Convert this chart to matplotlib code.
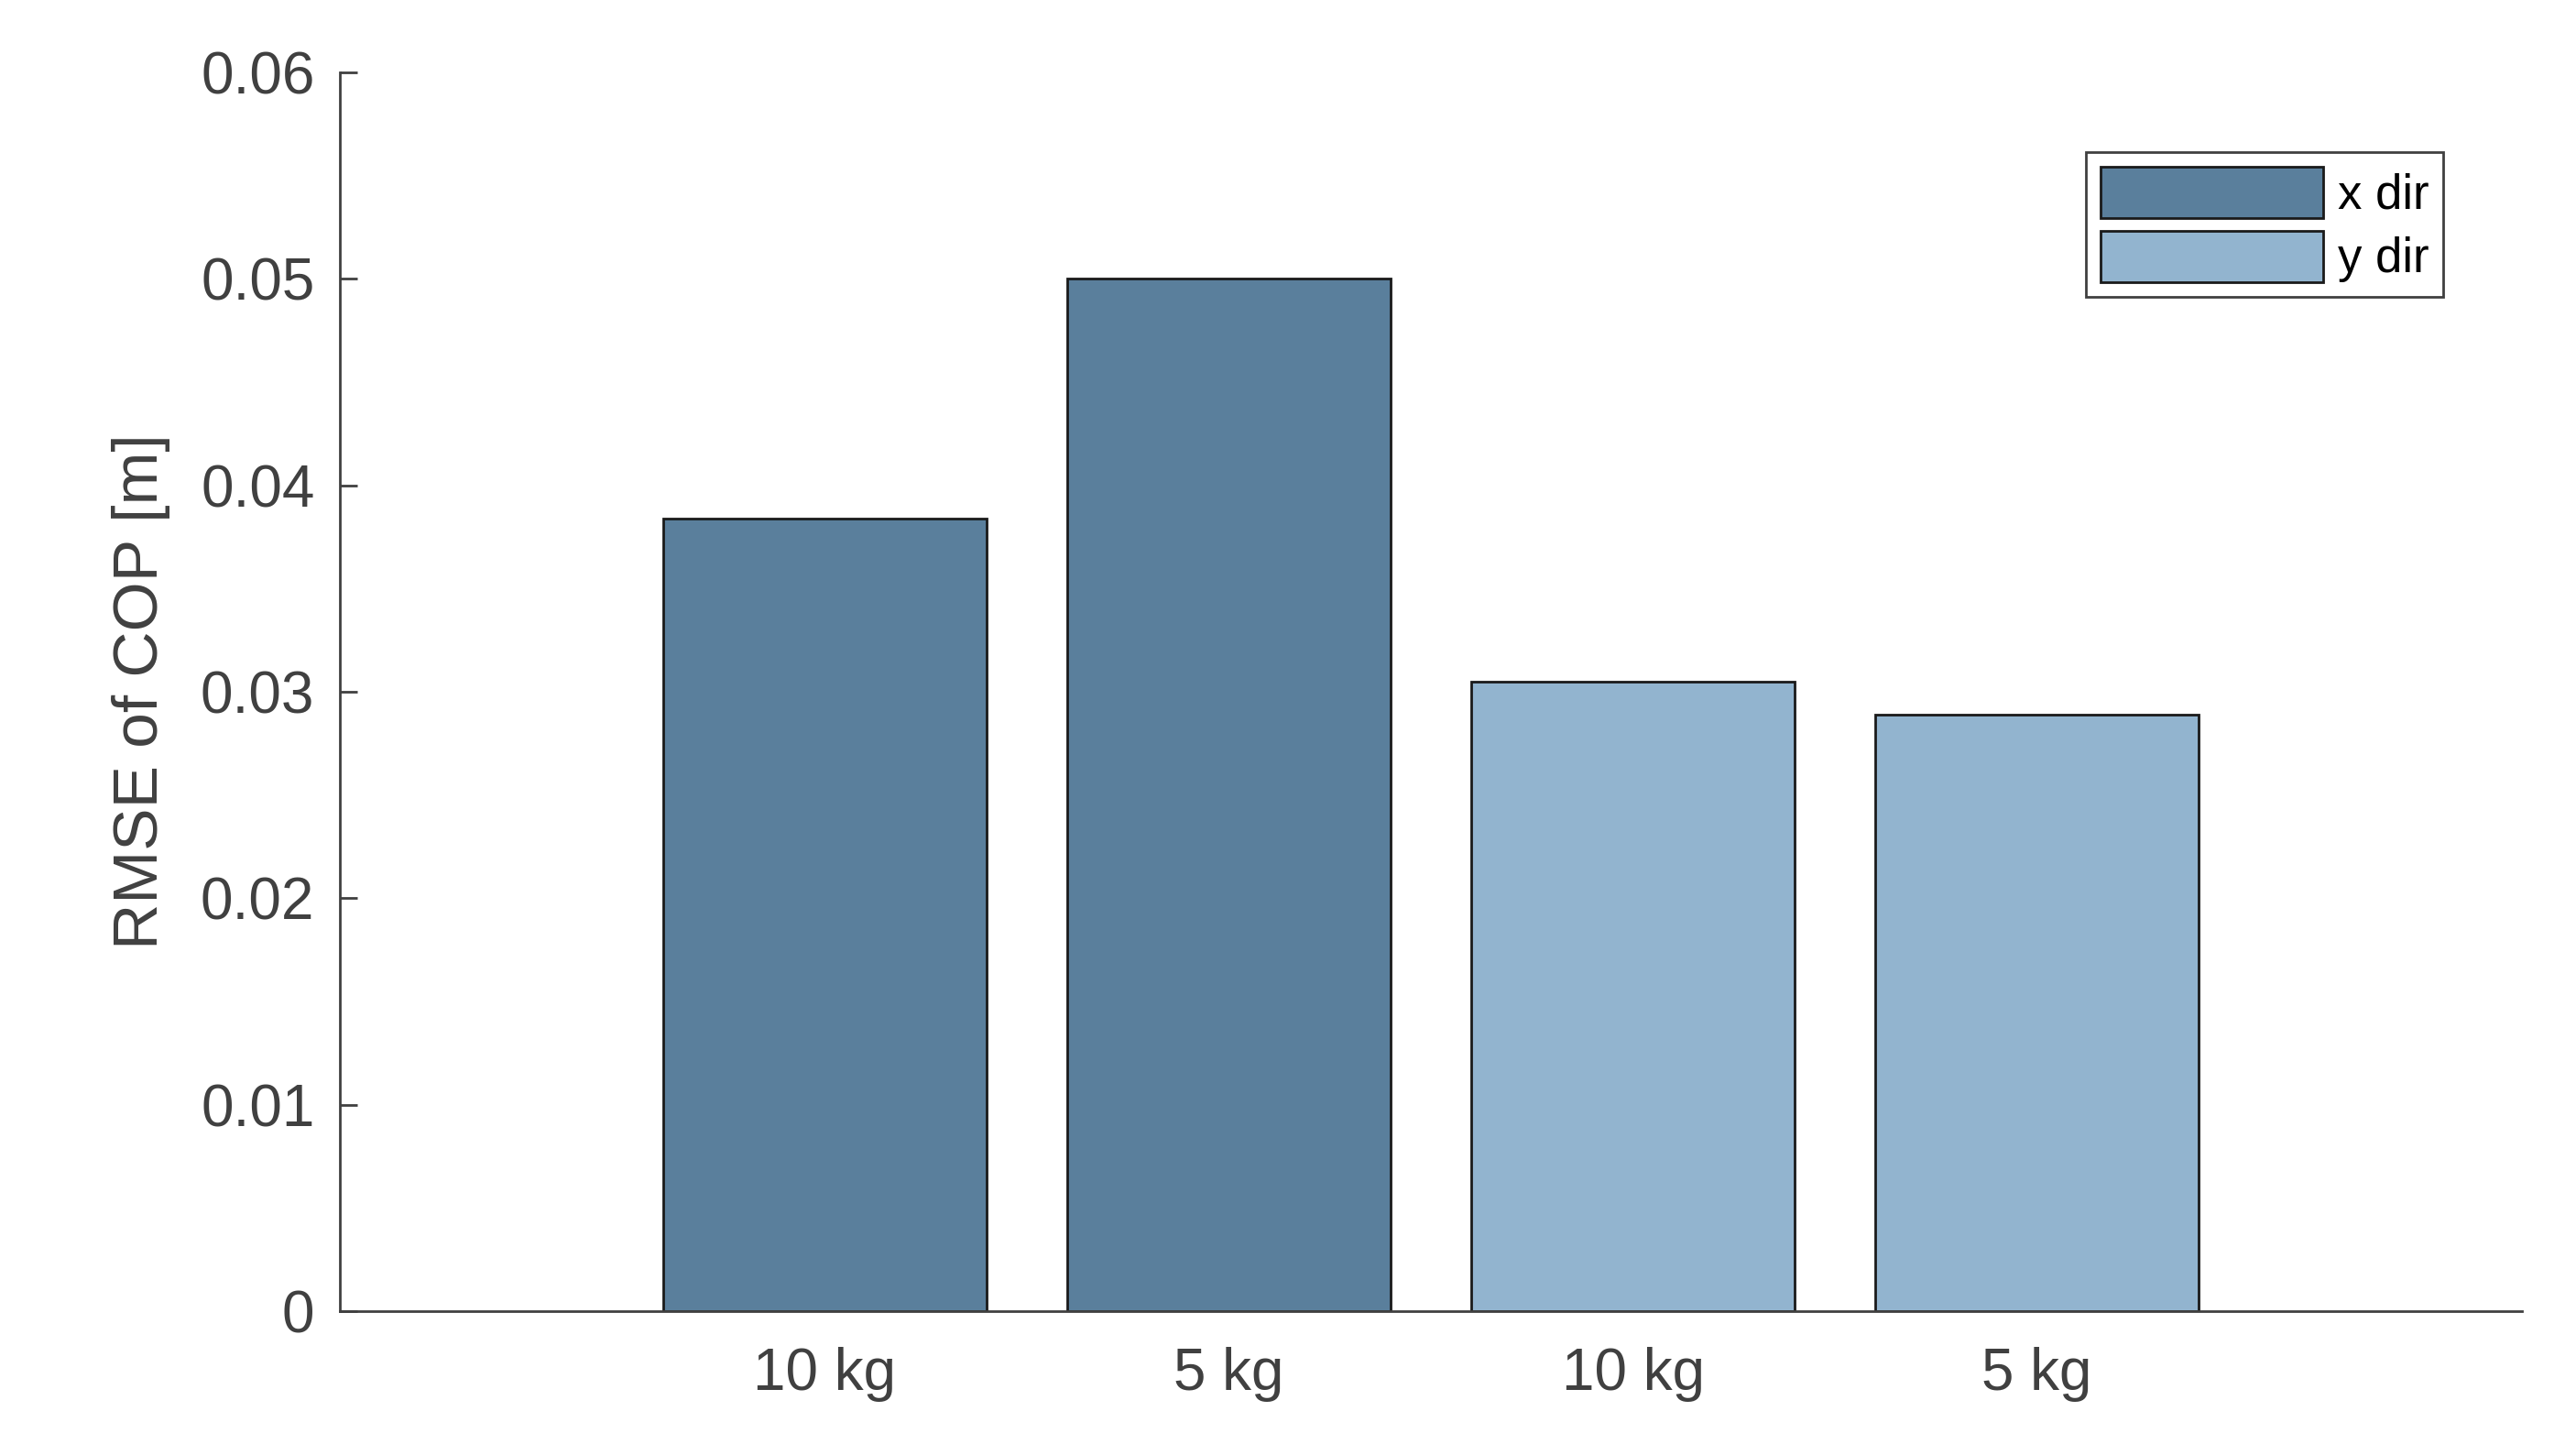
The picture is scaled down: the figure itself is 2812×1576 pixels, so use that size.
import matplotlib
matplotlib.use("Agg")
import matplotlib.pyplot as plt
from matplotlib.patches import Patch

categories = ["10 kg", "5 kg", "10 kg", "5 kg"]
values = [0.0384, 0.0500, 0.0305, 0.0289]
groups = ["x dir", "x dir", "y dir", "y dir"]
colors = {"x dir": "#5a7f9c", "y dir": "#92b4cf"}

plt.rcParams["font.family"] = ["Liberation Sans", "DejaVu Sans"]
txt = "#404040"

fig = plt.figure(figsize=(14.06, 7.88), dpi=200)
ax = fig.add_axes([0.132, 0.092, 0.847, 0.858])

pos = list(range(1, len(values) + 1))
ax.bar(pos, values, width=0.8, color=[colors[g] for g in groups],
       edgecolor="#1a1a1a", linewidth=1.0, zorder=2)

ax.set_xlim(-0.2, 5.2)
ax.set_ylim(0, 0.06)
ax.set_xticks(pos)
ax.set_xticklabels(categories)
ax.set_yticks([0, 0.01, 0.02, 0.03, 0.04, 0.05, 0.06])
ax.set_yticklabels(["0", "0.01", "0.02", "0.03", "0.04", "0.05", "0.06"])
ax.tick_params(direction="in", labelsize=23, colors=txt, length=7, width=1.0, pad=10)
ax.tick_params(axis="x", pad=14)
for s in ("top", "right"):
    ax.spines[s].set_visible(False)
for s in ("left", "bottom"):
    ax.spines[s].set_color(txt)
    ax.spines[s].set_linewidth(1.0)
ax.set_ylabel("RMSE of COP [m]", fontsize=25, color=txt, labelpad=12)

handles = [Patch(facecolor=colors[k], edgecolor="#1a1a1a", label=k) for k in ["x dir", "y dir"]]
leg = ax.legend(handles=handles, loc="upper right", bbox_to_anchor=(0.975, 0.955),
                fontsize=19, handlelength=4.6, handleheight=1.25, handletextpad=0.3,
                borderpad=0.3, labelspacing=0.25, fancybox=False, framealpha=1)
leg.get_frame().set_edgecolor(txt)
leg.get_frame().set_linewidth(1.0)

fig.savefig("out.png", dpi=200)
